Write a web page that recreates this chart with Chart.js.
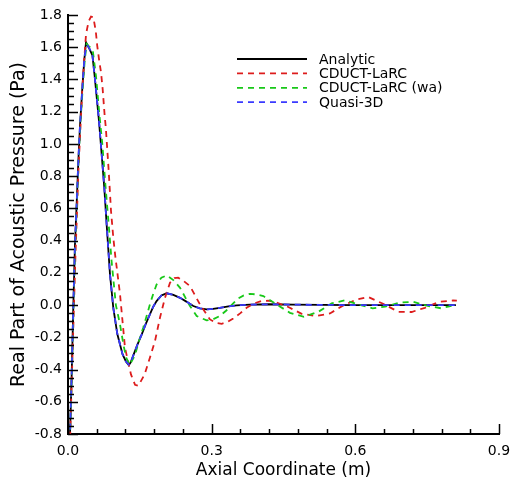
<!DOCTYPE html>
<html>
<head>
<meta charset="utf-8">
<script src="https://cdn.jsdelivr.net/npm/chart.js@4.4.1/dist/chart.umd.min.js"></script>
<style>
  html, body { margin: 0; padding: 0; background: #fff; }
  #wrap { width: 511px; height: 487px; }
</style>
</head>
<body>
<div id="wrap"><canvas id="grafico" width="511" height="487"></canvas></div>
<script>
// series labels
const seriesNames = ["Analytic", "CDUCT-LaRC", "CDUCT-LaRC (wa)", "Quasi-3D"];

// Analytic
const analyticX = [0, 0.0077, 0.011, 0.0146, 0.018, 0.0216, 0.025, 0.030, 0.034, 0.0376, 0.043, 0.051, 0.0557, 0.0647, 0.0703, 0.0758, 0.0807, 0.0877, 0.0946, 0.103, 0.114, 0.121, 0.127, 0.131, 0.136, 0.145, 0.154, 0.162, 0.171, 0.178, 0.185, 0.195, 0.206, 0.22, 0.234, 0.248, 0.2617, 0.2755, 0.2895, 0.303, 0.317, 0.335, 0.352, 0.38, 0.42, 0.47, 0.53, 0.6, 0.7, 0.81];
const analyticY = [-1.25, -0.43, -0.02, 0.38, 0.62, 0.894, 1.11, 1.35, 1.52, 1.63, 1.60, 1.55, 1.42, 1.143, 0.936, 0.729, 0.50, 0.19, -0.017, -0.18, -0.306, -0.35, -0.373, -0.355, -0.315, -0.245, -0.182, -0.12, -0.058, -0.01, 0.025, 0.06, 0.073, 0.063, 0.045, 0.02, -0.006, -0.02, -0.027, -0.024, -0.017, -0.008, -0.002, 0.003, 0.005, 0.003, 0.001, 0, 0, 0];

// CDUCT-LaRC
const cductX = [0, 0.008, 0.0155, 0.022, 0.03, 0.0376, 0.043, 0.048, 0.053, 0.058, 0.061, 0.065, 0.069, 0.0724, 0.0766, 0.079, 0.085, 0.0898, 0.0946, 0.0985, 0.1086, 0.119, 0.1315, 0.14, 0.147, 0.16, 0.171, 0.1816, 0.192, 0.2025, 0.213, 0.222, 0.23, 0.242, 0.2547, 0.2756, 0.2965, 0.309, 0.321, 0.333, 0.345, 0.36, 0.373, 0.388, 0.404, 0.418, 0.432, 0.46, 0.488, 0.5177, 0.547, 0.575, 0.6027, 0.627, 0.658, 0.69, 0.7175, 0.745, 0.775, 0.804, 0.812];
const cductY = [-1.3, -0.45, 0.30, 0.85, 1.35, 1.68, 1.76, 1.79, 1.785, 1.70, 1.61, 1.52, 1.443, 1.34, 1.174, 1.10, 0.832, 0.584, 0.418, 0.31, 0.068, -0.265, -0.43, -0.495, -0.50, -0.43, -0.327, -0.224, -0.079, 0.045, 0.139, 0.168, 0.17, 0.148, 0.118, 0.004, -0.089, -0.11, -0.116, -0.105, -0.083, -0.05, -0.017, 0.01, 0.025, 0.027, 0.02, -0.012, -0.054, -0.068, -0.052, -0.002, 0.035, 0.05, 0.008, -0.042, -0.043, -0.017, 0.02, 0.029, 0.028];

// CDUCT-LaRC (wa)
const cductWaX = [0, 0.008, 0.0115, 0.015, 0.0185, 0.022, 0.0255, 0.031, 0.035, 0.039, 0.044, 0.0515, 0.0585, 0.065, 0.0717, 0.078, 0.085, 0.091, 0.1, 0.1086, 0.116, 0.122, 0.129, 0.14, 0.148, 0.157, 0.164, 0.171, 0.178, 0.185, 0.195, 0.206, 0.22, 0.234, 0.2547, 0.2687, 0.2895, 0.303, 0.317, 0.33, 0.345, 0.355, 0.367, 0.38, 0.394, 0.408, 0.4356, 0.4635, 0.4927, 0.5226, 0.5505, 0.578, 0.606, 0.636, 0.662, 0.693, 0.721, 0.749, 0.779, 0.808];
const cductWaY = [-1.25, -0.43, -0.02, 0.38, 0.62, 0.894, 1.11, 1.36, 1.52, 1.62, 1.605, 1.585, 1.42, 1.20, 0.998, 0.75, 0.50, 0.273, 0.0, -0.12, -0.25, -0.33, -0.37, -0.31, -0.225, -0.141, -0.07, 0.004, 0.07, 0.128, 0.17, 0.184, 0.155, 0.107, -0.006, -0.068, -0.095, -0.088, -0.068, -0.035, 0.01, 0.04, 0.06, 0.07, 0.066, 0.056, 0.004, -0.048, -0.073, -0.042, 0.01, 0.029, 0.004, -0.02, -0.01, 0.016, 0.02, -0.004, -0.02, 0];

// Quasi-3D
const quasiX = [0, 0.0077, 0.011, 0.0146, 0.018, 0.0216, 0.025, 0.030, 0.034, 0.0376, 0.041, 0.046, 0.051, 0.0557, 0.0647, 0.0703, 0.0758, 0.0807, 0.0877, 0.0946, 0.103, 0.114, 0.121, 0.127, 0.131, 0.136, 0.145, 0.154, 0.162, 0.171, 0.178, 0.185, 0.195, 0.206, 0.22, 0.234, 0.248, 0.2617, 0.2755, 0.2895, 0.303, 0.317, 0.335, 0.352, 0.38, 0.42, 0.47, 0.53, 0.6, 0.7, 0.81];
const quasiY = [-1.25, -0.43, -0.02, 0.38, 0.62, 0.894, 1.11, 1.35, 1.52, 1.605, 1.61, 1.585, 1.55, 1.42, 1.143, 0.936, 0.729, 0.50, 0.19, -0.017, -0.18, -0.306, -0.35, -0.37, -0.355, -0.315, -0.245, -0.182, -0.12, -0.058, -0.01, 0.025, 0.06, 0.073, 0.063, 0.045, 0.02, -0.006, -0.02, -0.027, -0.024, -0.017, -0.008, -0.002, 0.003, 0.005, 0.003, 0.001, 0, 0, 0];

// axis ticks
const xTicks = [0, 0.3, 0.6, 0.9];
const yTicks = [-0.8, -0.6, -0.4, -0.2, 0, 0.2, 0.4, 0.6, 0.8, 1.0, 1.2, 1.4, 1.6, 1.8];

const fonte = "'DejaVu Sans', Verdana, sans-serif";

function pontos(xs, ys) {
    return xs.map((x, i) => ({ x: x, y: ys[i] }));
}

// ticks pointing inward, major + minor
const ticksInternos = {
    id: 'ticksInternos',
    afterDraw(chart) {
        const ctx = chart.ctx;
        const area = chart.chartArea;
        const sx = chart.scales.x;
        const sy = chart.scales.y;
        ctx.save();
        ctx.strokeStyle = '#000';
        ctx.lineWidth = 1.5;
        ctx.beginPath();
        for (let i = 0; i <= 15; i++) {
            const px = Math.round(sx.getPixelForValue(i * 0.06)) + 0.5;
            const len = (i % 5 === 0) ? 10 : 5;
            ctx.moveTo(px, area.bottom);
            ctx.lineTo(px, area.bottom - len);
        }
        for (let i = 0; i <= 52; i++) {
            const py = Math.round(sy.getPixelForValue(-0.8 + i * 0.05)) + 0.5;
            const len = (i % 4 === 0) ? 10 : 6;
            ctx.moveTo(area.left, py);
            ctx.lineTo(area.left + len, py);
        }
        ctx.stroke();
        ctx.restore();
    }
};

// legend drawn inside the plot
const legendaInterna = {
    id: 'legendaInterna',
    afterDatasetsDraw(chart) {
        const ctx = chart.ctx;
        ctx.save();
        ctx.font = "14px " + fonte;
        ctx.textBaseline = 'middle';
        ctx.fillStyle = '#000';
        seriesNames.forEach((nome, i) => {
            const ds = chart.data.datasets[i];
            const y = 59 + i * 14.4;
            ctx.strokeStyle = ds.borderColor;
            ctx.lineWidth = ds.borderWidth;
            ctx.setLineDash(ds.borderDash || []);
            ctx.beginPath();
            ctx.moveTo(237, y);
            ctx.lineTo(307, y);
            ctx.stroke();
            ctx.setLineDash([]);
            ctx.fillText(nome, 319, y + 1);
        });
        ctx.restore();
    }
};

const cores = ['#000000', '#dd1c1c', '#18c818', '#3a3aff'];
const tracos = [[], [6, 5], [6, 5], [6, 5]];
const valoresX = [analyticX, cductX, cductWaX, quasiX];
const valoresY = [analyticY, cductY, cductWaY, quasiY];

new Chart(document.getElementById('grafico'), {
    type: 'line',
    data: {
        datasets: seriesNames.map((nome, i) => ({
            label: nome,
            data: pontos(valoresX[i], valoresY[i]),
            borderColor: cores[i],
            borderWidth: 1.8,
            borderDash: tracos[i],
            pointRadius: 0,
            tension: 0,
            fill: false,
            order: 4 - i
        }))
    },
    options: {
        responsive: false,
        animation: false,
        layout: { padding: { left: 0, top: 15, right: 12, bottom: 0 } },
        plugins: {
            legend: { display: false },
            tooltip: { enabled: false }
        },
        scales: {
            x: {
                type: 'linear',
                min: 0,
                max: 0.9,
                afterFit: (s) => { s.height = 53; s.paddingRight = 0; s.paddingLeft = 0; },
                afterBuildTicks: (s) => { s.ticks = xTicks.map(v => ({ value: v })); },
                grid: { display: false, drawTicks: false },
                border: { display: true, color: '#000', width: 2 },
                ticks: {
                    color: '#000',
                    padding: 9,
                    maxRotation: 0,
                    font: { family: fonte, size: 14 },
                    callback: (v) => Number(v).toFixed(1)
                },
                title: {
                    display: true,
                    text: 'Axial Coordinate (m)',
                    color: '#000',
                    font: { family: fonte, size: 17, lineHeight: 1.2 },
                    padding: { top: 0, bottom: 6 }
                }
            },
            y: {
                type: 'linear',
                min: -0.8,
                max: 1.8,
                afterFit: (s) => { s.width = 68; },
                afterBuildTicks: (s) => { s.ticks = yTicks.map(v => ({ value: v })); },
                grid: { display: false, drawTicks: false },
                border: { display: true, color: '#000', width: 2 },
                ticks: {
                    color: '#000',
                    padding: 6,
                    font: { family: fonte, size: 14 },
                    callback: (v) => Number(v).toFixed(1)
                },
                title: {
                    display: true,
                    text: 'Real Part of Acoustic Pressure (Pa)',
                    color: '#000',
                    font: { family: fonte, size: 19, lineHeight: 1.2 },
                    padding: { top: 8, bottom: 0 }
                }
            }
        }
    },
    plugins: [ticksInternos, legendaInterna]
});
</script>
</body>
</html>
